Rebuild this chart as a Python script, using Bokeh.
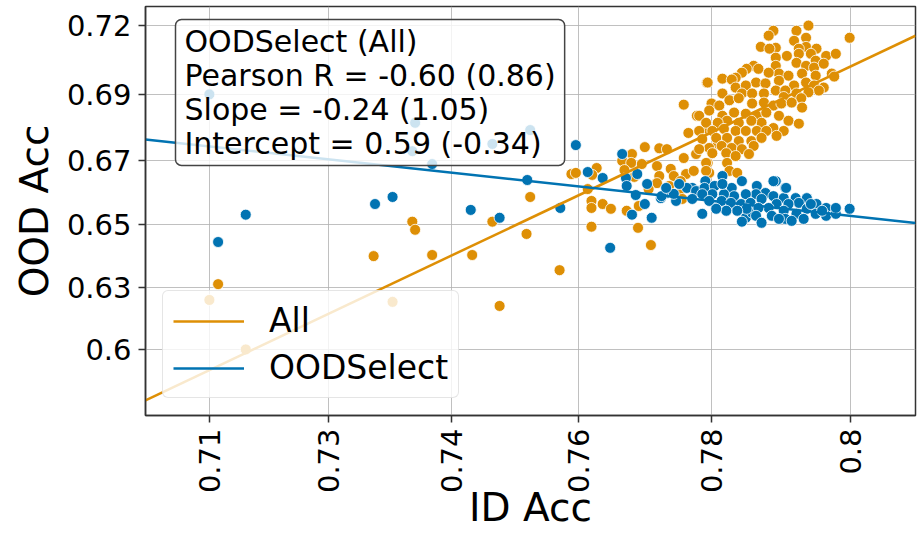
from statistics import NormalDist
from bokeh.plotting import figure
from bokeh.models import (Range1d, FixedTicker, CustomJSTickFormatter, Label,
                          Legend, LegendItem, ColumnDataSource)
from bokeh.embed import file_html
from bokeh.resources import INLINE

# ---------------- data (accuracies) ----------------
ood_x = [0.7100, 0.7113, 0.7154, 0.7342, 0.7367, 0.7399, 0.7395, 0.7423, 0.7559, 0.7507,
         0.7555, 0.7477, 0.7517, 0.7621, 0.7600, 0.7637, 0.7657, 0.7667, 0.7683, 0.7688,
         0.7703, 0.7689, 0.7701, 0.7713, 0.7696, 0.7722, 0.7716, 0.7734, 0.7741, 0.7754,
         0.7775, 0.7735, 0.7751, 0.7768, 0.7784, 0.7797, 0.7814, 0.7806, 0.7819, 0.7788,
         0.7831, 0.7844, 0.7852, 0.7758, 0.7741, 0.7792, 0.7780, 0.7791, 0.7804, 0.7826,
         0.7839, 0.7858, 0.7882, 0.7894, 0.7869, 0.7857, 0.7844, 0.7829, 0.7816, 0.7801,
         0.7788, 0.7775, 0.7797, 0.7813, 0.7825, 0.7838, 0.7850, 0.7864, 0.7879, 0.7892,
         0.7907, 0.7921, 0.7911, 0.7898, 0.7883, 0.7873, 0.7860, 0.7845, 0.7833, 0.7819,
         0.7806, 0.7857, 0.7839, 0.7864, 0.7877, 0.7892, 0.7894, 0.7908, 0.7921, 0.7933,
         0.7945, 0.7932, 0.7917, 0.7945, 0.7957, 0.7957, 0.7974, 0.7940, 0.7926, 0.7886,
         0.7902, 0.7814, 0.7879, 0.7895]
ood_y = [0.6941, 0.6424, 0.6522, 0.6560, 0.6585, 0.6844, 0.6746, 0.6701, 0.6819, 0.6771,
         0.6645, 0.6539, 0.6511, 0.6767, 0.6546, 0.6673, 0.6652, 0.6403, 0.6736, 0.6652,
         0.6666, 0.6624, 0.6592, 0.6560, 0.6522, 0.6511, 0.6631, 0.6581, 0.6599, 0.6571,
         0.6617, 0.6588, 0.6596, 0.6617, 0.6606, 0.6588, 0.6659, 0.6546, 0.6571, 0.6525,
         0.6553, 0.6511, 0.6529, 0.6631, 0.6617, 0.6641, 0.6606, 0.6617, 0.6624, 0.6617,
         0.6641, 0.6624, 0.6641, 0.6617, 0.6599, 0.6595, 0.6595, 0.6588, 0.6595, 0.6595,
         0.6595, 0.6578, 0.6571, 0.6571, 0.6564, 0.6560, 0.6564, 0.6578, 0.6588, 0.6581,
         0.6581, 0.6581, 0.6564, 0.6560, 0.6560, 0.6546, 0.6546, 0.6543, 0.6536, 0.6536,
         0.6543, 0.6518, 0.6497, 0.6493, 0.6518, 0.6536, 0.6507, 0.6525, 0.6543, 0.6560,
         0.6546, 0.6525, 0.6507, 0.6518, 0.6525, 0.6546, 0.6543, 0.6536, 0.6560, 0.6507,
         0.6500, 0.6631, 0.6641, 0.6617]

all_x = [0.7100, 0.7113, 0.7154, 0.7340, 0.7367, 0.7395, 0.7399, 0.7423, 0.7479, 0.7507,
         0.7517, 0.7554, 0.7559, 0.7599, 0.7615, 0.7621, 0.7649, 0.7643, 0.7637, 0.7642,
         0.7642, 0.7657, 0.7668, 0.7642, 0.7689, 0.7705, 0.7704, 0.7721, 0.7713, 0.7732,
         0.7742, 0.7696, 0.7683, 0.7695, 0.7709, 0.7686, 0.7699, 0.7729, 0.7732, 0.7747,
         0.7751, 0.7764, 0.7767, 0.7760, 0.7780, 0.7777, 0.7795, 0.7797, 0.7729, 0.7745,
         0.7758, 0.7762, 0.7718, 0.7808, 0.7819, 0.7764, 0.7781, 0.7770, 0.7795, 0.7794,
         0.7923, 0.7879, 0.7908, 0.7873, 0.7920, 0.7974, 0.7905, 0.7863, 0.7882, 0.7920,
         0.7911, 0.7933, 0.7874, 0.7896, 0.7911, 0.7926, 0.7945, 0.7957, 0.7882, 0.7882,
         0.7908, 0.7932, 0.7920, 0.7930, 0.7942, 0.7854, 0.7860, 0.7845, 0.7839, 0.7831,
         0.7886, 0.7898, 0.7873, 0.7932, 0.7952, 0.7955, 0.7915, 0.7795, 0.7814, 0.7826,
         0.7857, 0.7869, 0.7886, 0.7905, 0.7920, 0.7930, 0.7942, 0.7936, 0.7831, 0.7844,
         0.7814, 0.7839, 0.7852, 0.7867, 0.7882, 0.7894, 0.7908, 0.7923, 0.7914, 0.7892,
         0.7823, 0.7835, 0.7852, 0.7867, 0.7879, 0.7889, 0.7902, 0.7915, 0.7800, 0.7784,
         0.7797, 0.7810, 0.7814, 0.7829, 0.7844, 0.7858, 0.7870, 0.7886, 0.7898, 0.7911,
         0.7892, 0.7879, 0.7864, 0.7851, 0.7835, 0.7820, 0.7808, 0.7793, 0.7784, 0.7801,
         0.7816, 0.7831, 0.7844, 0.7858, 0.7870, 0.7883, 0.7788, 0.7806, 0.7820, 0.7835,
         0.7851, 0.7864, 0.7854, 0.7797, 0.7813, 0.7826, 0.7839, 0.7784, 0.7801, 0.7819,
         0.7831, 0.7848, 0.7793, 0.7820, 0.7793, 0.7823, 0.7833]
all_y = [0.6213, 0.6271, 0.6030, 0.6373, 0.6206, 0.6497, 0.6468, 0.6377, 0.6377, 0.6497,
         0.6191, 0.6453, 0.6585, 0.6322, 0.6666, 0.6670, 0.6687, 0.6663, 0.6613, 0.6571,
         0.6546, 0.6560, 0.6543, 0.6479, 0.6536, 0.6553, 0.6475, 0.6413, 0.6760, 0.6756,
         0.6753, 0.6736, 0.6712, 0.6705, 0.6701, 0.6680, 0.6656, 0.6694, 0.6659, 0.6684,
         0.6659, 0.6722, 0.6666, 0.6641, 0.6736, 0.6677, 0.6705, 0.6670, 0.6634, 0.6624,
         0.6595, 0.6578, 0.6613, 0.6771, 0.6771, 0.6906, 0.6868, 0.6809, 0.6823, 0.6981,
         0.7170, 0.7153, 0.7153, 0.7137, 0.7130, 0.7130, 0.7120, 0.7100, 0.7097, 0.7100,
         0.7094, 0.7094, 0.7094, 0.7070, 0.7077, 0.7077, 0.7070, 0.7077, 0.7064, 0.7037,
         0.7047, 0.7054, 0.7037, 0.7031, 0.7044, 0.7037, 0.7027, 0.7027, 0.7014, 0.6997,
         0.7011, 0.7004, 0.7014, 0.7004, 0.7011, 0.7001, 0.7011, 0.6981, 0.6994, 0.6991,
         0.6981, 0.6978, 0.6987, 0.6971, 0.6981, 0.6971, 0.6964, 0.6954, 0.6964, 0.6971,
         0.6944, 0.6944, 0.6944, 0.6944, 0.6954, 0.6954, 0.6944, 0.6948, 0.6928, 0.6932,
         0.6921, 0.6928, 0.6910, 0.6913, 0.6903, 0.6910, 0.6913, 0.6896, 0.6910, 0.6868,
         0.6886, 0.6903, 0.6868, 0.6879, 0.6875, 0.6868, 0.6879, 0.6868, 0.6851, 0.6841,
         0.6816, 0.6826, 0.6844, 0.6851, 0.6844, 0.6851, 0.6844, 0.6844, 0.6816, 0.6816,
         0.6823, 0.6816, 0.6816, 0.6816, 0.6816, 0.6799, 0.6788, 0.6792, 0.6792, 0.6781,
         0.6781, 0.6792, 0.6764, 0.6757, 0.6764, 0.6757, 0.6753, 0.6753, 0.6739, 0.6739,
         0.6729, 0.6736, 0.6705, 0.6705, 0.6677, 0.6677, 0.6670]

# regression results (probit space) and correlations, as printed in the box
slope_ood, intercept_ood, pearson_ood = -0.24, 0.59, -0.60
slope_all, intercept_all, pearson_all = 1.05, -0.34, 0.86

x_ticks = [0.71, 0.7275, 0.745, 0.7625, 0.78, 0.7975]
x_tick_labels = ["0.71", "0.73", "0.74", "0.76", "0.78", "0.8"]
y_ticks = [0.603, 0.6258, 0.6486, 0.6714, 0.6942, 0.717]
y_tick_labels = ["0.6", "0.63", "0.65", "0.67", "0.69", "0.72"]
x_limits = [0.7004, 0.8054]
y_limits = [0.5782, 0.7232]

# ---------------- styling ----------------
ORANGE = "#DE8F05"
BLUE = "#0173B2"
FONT = "DejaVu Sans"

probit = NormalDist().inv_cdf

p = figure(width=924, height=534, output_backend="svg", toolbar_location=None,
           x_range=Range1d(probit(x_limits[0]), probit(x_limits[1])),
           y_range=Range1d(probit(y_limits[0]), probit(y_limits[1])),
           min_border_left=145, min_border_right=9, min_border_top=6,
           min_border_bottom=119, background_fill_color="white",
           border_fill_color="white")

def fmt(ticks, labels):
    return CustomJSTickFormatter(args=dict(t=ticks, l=labels), code="""
        let best = 0, bd = 1e9;
        for (let i = 0; i < t.length; i++) {
            const d = Math.abs(t[i] - tick);
            if (d < bd) { bd = d; best = i; }
        }
        return l[best];
    """)

xt = [probit(v) for v in x_ticks]
yt = [probit(v) for v in y_ticks]
p.xaxis.ticker = FixedTicker(ticks=xt)
p.yaxis.ticker = FixedTicker(ticks=yt)
p.xaxis.formatter = fmt(xt, x_tick_labels)
p.yaxis.formatter = fmt(yt, y_tick_labels)
p.xaxis.major_label_orientation = 3.14159265 / 2

for ax in (p.xaxis, p.yaxis):
    ax.major_label_text_font = FONT
    ax.major_label_text_font_size = "29px"
    ax.major_label_text_color = "black"
    ax.axis_label_text_font = FONT
    ax.axis_label_text_font_size = "39px"
    ax.axis_label_text_font_style = "normal"
    ax.axis_label_text_color = "black"
    ax.major_tick_out = 7
    ax.major_tick_in = 0
    ax.major_tick_line_width = 1.5
    ax.major_tick_line_color = "#333333"
    ax.minor_tick_line_color = None
    ax.axis_line_color = "#333333"
    ax.axis_line_width = 1.5

p.xaxis.axis_label = "ID Acc"
p.yaxis.axis_label = "OOD Acc"
p.xaxis.major_label_standoff = 6
p.xaxis.axis_label_standoff = -11
p.xaxis.axis_label_text_baseline = "alphabetic"
p.yaxis.major_label_standoff = 7
p.yaxis.axis_label_standoff = 7

p.grid.grid_line_color = "#b0b0b0"
p.grid.grid_line_alpha = 0.8
p.grid.grid_line_width = 1
p.outline_line_color = "#333333"
p.outline_line_width = 1.5

src_all = ColumnDataSource(dict(x=[probit(v) for v in all_x], y=[probit(v) for v in all_y]))
src_ood = ColumnDataSource(dict(x=[probit(v) for v in ood_x], y=[probit(v) for v in ood_y]))
p.scatter("x", "y", source=src_all, size=11, fill_color=ORANGE, line_color="white", line_width=0.8)
p.scatter("x", "y", source=src_ood, size=11, fill_color=BLUE, line_color="white", line_width=0.8)

xs = [p.x_range.start, p.x_range.end]
l_all = p.line(xs, [intercept_all + slope_all * v for v in xs], line_color=ORANGE, line_width=2.5)
l_ood = p.line(xs, [intercept_ood + slope_ood * v for v in xs], line_color=BLUE, line_width=2.5)

legend = Legend(items=[LegendItem(label="All", renderers=[l_all]),
                       LegendItem(label="OODSelect", renderers=[l_ood])],
                location="bottom_left", margin=17, padding=10, spacing=8,
                glyph_width=71, glyph_height=36, label_height=36, label_standoff=25,
                label_text_font=FONT, label_text_font_size="33px", label_text_color="black",
                background_fill_color="white", background_fill_alpha=0.8,
                border_line_color="#cccccc", border_line_width=1.5, border_radius=6)
p.add_layout(legend)

box_text = "\n".join([
    "OODSelect (All)",
    f"Pearson R = {pearson_ood:.2f} ({pearson_all:.2f})",
    f"Slope = {slope_ood:.2f} ({slope_all:.2f})",
    f"Intercept = {intercept_ood:.2f} ({intercept_all:.2f})",
])
info = Label(x=30, y=396, x_units="screen", y_units="screen", anchor="top_left",
             text=box_text, text_font=FONT, text_font_size="30px", text_line_height=0.98,
             text_color="black", background_fill_color="white", background_fill_alpha=0.8,
             border_line_color="#444444", border_line_width=1.5, border_radius=6,
             padding=(9, 4))
p.add_layout(info)

open("out.html", "w").write(file_html(p, INLINE))
